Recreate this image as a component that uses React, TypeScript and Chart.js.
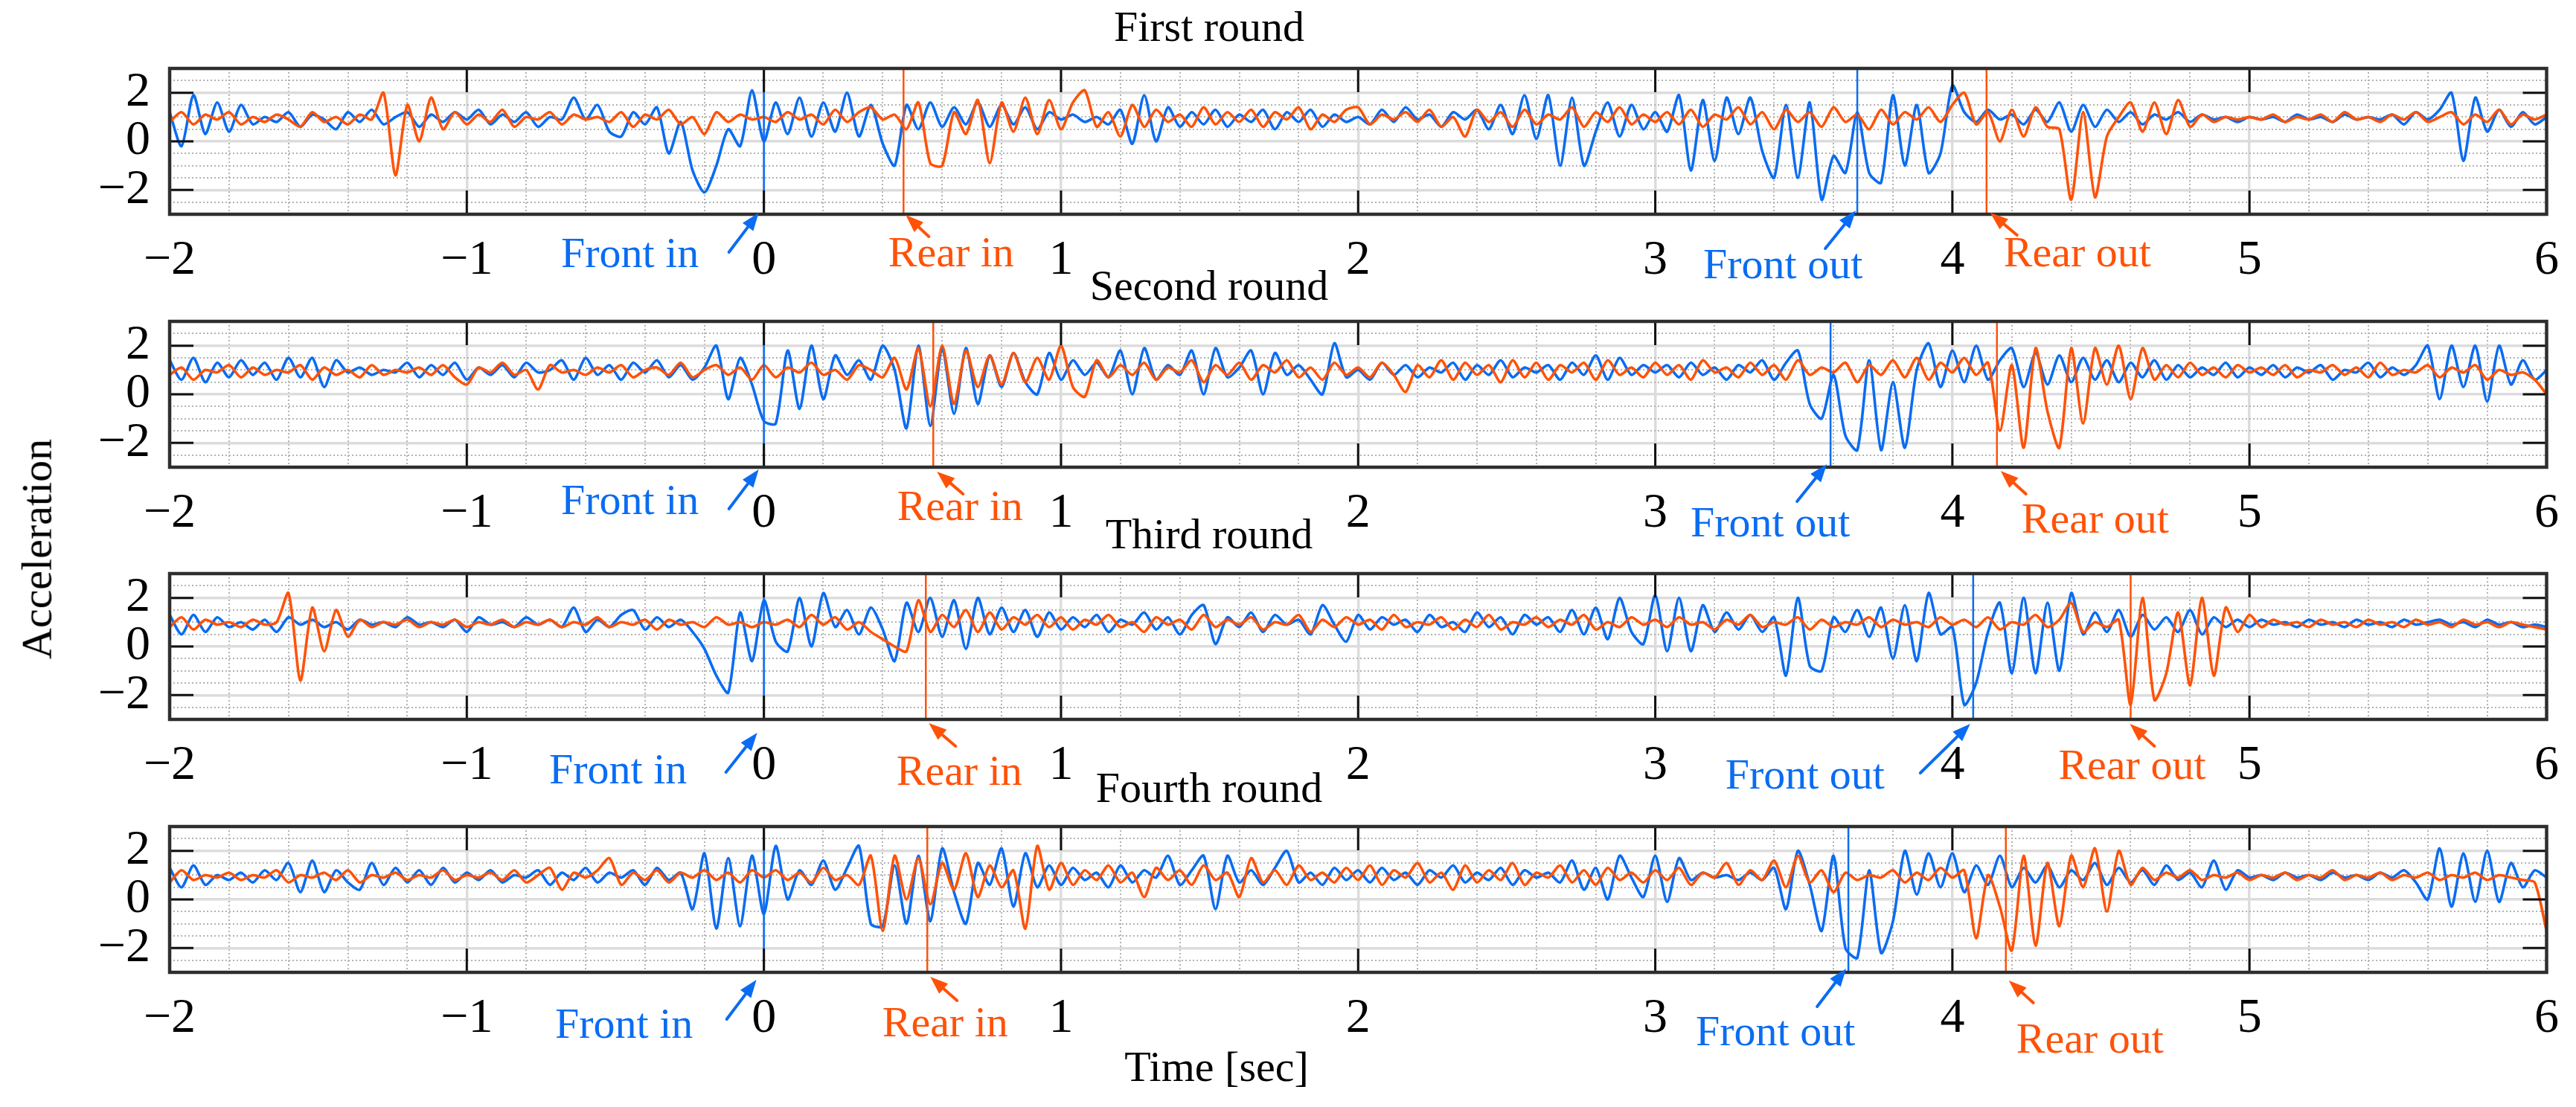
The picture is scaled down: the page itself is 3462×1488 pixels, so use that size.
import React, { useEffect, useRef } from "react";
import { Chart, registerables } from "chart.js";
Chart.register(...registerables);

// ---------------- data ----------------
// uniformly sampled signals: first sample at T_START, one sample every T_STEP seconds
const T_START = -2;
const T_STEP = 0.04;

const X_MIN = -2;
const X_MAX = 6;
const Y_MIN = -3;
const Y_MAX = 3;
const X_MAJOR = [-2, -1, 0, 1, 2, 3, 4, 5, 6];
const Y_MAJOR = [-2, 0, 2];

const ROUND_TITLES = ["First round", "Second round", "Third round", "Fourth round"];
const EVENT_LABELS = ["Front in", "Rear in", "Front out", "Rear out"];

const FRONT_1 = [
  1.2, -0.2, 1.9, 0.3, 1.6, 0.4, 1.5, 0.7, 1.0, 0.8, 1.2, 0.6, 1.1, 0.9, 0.5, 1.2, 0.8, 1.3, 0.7, 1.0, 1.2, 0.6, 1.1, 0.8, 1.2,
  0.9, 1.3, 0.7, 1.1, 0.8, 1.2, 0.6, 1.0, 0.9, 1.8, 0.9, 1.5, 0.4, 0.2, 1.2, 0.7, 1.4, -0.5, 0.8, -1.2, -2.1, -1.0, 0.5, -0.2, 2.1,
  0.0, 1.6, 0.3, 1.8, 0.2, 1.6, 0.4, 2.0, 0.2, 1.5, -0.1, -1.0, 1.5, 0.5, 1.6, 0.6, 1.4, 0.7, 1.6, 0.6, 1.5, 0.7, 1.4, 0.5, 1.2,
  0.9, 1.1, 0.8, 1.0, 0.7, 1.3, -0.1, 1.9, 0.0, 1.4, 0.6, 1.2, 0.7, 1.3, 0.6, 1.1, 0.8, 1.3, 0.5, 1.2, 0.8, 1.3, 0.6, 1.1, 0.8,
  1.0, 0.7, 1.3, 0.8, 1.4, 0.9, 1.1, 0.6, 1.2, 0.9, 1.3, 0.5, 1.5, 0.3, 1.9, 0.1, 1.9, -1.0, 1.8, -1.0, 0.4, 1.6, 0.2, 1.5, 0.5,
  1.2, 0.4, 1.9, -1.2, 1.7, -0.8, 1.8, 0.3, 1.8, -0.4, -1.5, 1.5, -1.5, 1.6, -2.4, -0.6, -1.3, 1.2, -1.3, -1.7, 1.9, -1.0, 1.5, -1.3, -0.5,
  2.3, 1.2, 0.8, 1.3, 0.9, 1.1, 0.7, 1.3, 0.8, 1.6, 0.4, 1.5, 0.6, 1.3, 0.8, 1.2, 0.7, 1.1, 0.9, 1.2, 0.8, 1.1, 0.9, 1.0, 0.8,
  1.0, 0.9, 1.0, 0.8, 1.1, 0.9, 1.0, 0.8, 1.1, 0.9, 1.0, 0.9, 1.1, 0.7, 1.2, 0.9, 1.3, 2.0, -0.8, 1.8, 0.4, 1.3, 0.6, 1.2, 0.7,
  1.0,
];
const REAR_1 = [
  0.8, 1.2, 0.7, 1.1, 0.9, 1.2, 0.7, 1.0, 0.8, 1.1, 0.9, 0.6, 1.2, 0.8, 1.0, 0.7, 1.1, 0.9, 2.0, -1.4, 1.5, 0.0, 1.8, 0.5, 1.2,
  0.7, 1.1, 0.8, 1.3, 0.6, 1.0, 0.9, 1.2, 0.7, 1.1, 0.9, 1.0, 0.8, 1.2, 0.6, 1.1, 0.9, 1.3, 0.7, 1.0, 0.3, 1.2, 0.8, 1.1, 0.9,
  1.0, 0.8, 1.2, 0.9, 1.1, 0.7, 1.3, 0.8, 1.2, 1.4, 0.9, 1.1, 0.5, 1.6, -0.9, -1.0, 1.2, 0.3, 1.7, -0.9, 1.6, 0.4, 1.8, 0.3, 1.7,
  0.5, 1.6, 2.1, 0.6, 1.2, 0.2, 1.5, 0.6, 1.3, 0.8, 1.1, 0.6, 1.4, 0.7, 1.2, 0.8, 1.3, 0.6, 1.2, 0.9, 1.4, 0.5, 1.1, 0.8, 1.3,
  1.4, 0.7, 1.1, 0.9, 1.2, 0.8, 1.3, 0.6, 1.0, 0.2, 1.3, 0.8, 1.2, 0.6, 1.3, 0.7, 1.1, 0.9, 1.4, 0.6, 1.2, 0.8, 1.4, 0.7, 1.1,
  0.8, 1.2, 0.7, 1.3, 0.6, 1.1, 0.9, 1.4, 0.7, 1.2, 0.5, 1.3, 0.8, 1.2, 0.6, 1.4, 0.8, 1.1, 0.5, 1.3, 0.7, 1.2, 0.9, 1.4, 0.8,
  1.5, 2.0, 0.7, 1.2, 0.0, 1.3, 0.2, 1.4, 0.6, 0.5, -2.4, 1.2, -2.3, 0.2, 1.0, 1.6, 0.4, 1.6, 0.3, 1.7, 0.6, 1.1, 0.8, 1.0, 0.9,
  1.0, 0.9, 1.1, 0.8, 1.0, 0.9, 1.1, 0.8, 1.2, 0.9, 1.0, 0.8, 1.1, 0.9, 1.2, 0.8, 1.0, 1.2, 0.7, 1.1, 0.8, 1.3, 0.7, 1.1, 0.9,
  1.1,
];
const FRONT_2 = [
  1.4, 0.6, 1.5, 0.5, 1.3, 0.7, 1.4, 0.8, 1.3, 0.6, 1.5, 0.7, 1.5, 0.3, 1.4, 0.9, 1.1, 0.8, 1.0, 0.9, 1.3, 0.7, 1.2, 0.8, 1.3,
  0.6, 1.1, 0.8, 1.2, 0.7, 1.3, 0.9, 1.0, 1.4, 0.6, 1.5, 0.8, 1.2, 0.6, 1.3, 0.9, 1.4, 0.7, 1.2, 0.6, 1.1, 2.0, -0.2, 1.5, 0.4,
  -1.1, -1.2, 1.8, -0.6, 2.0, -0.2, 1.6, 0.8, 1.4, 0.6, 2.0, 1.0, -1.4, 2.0, -1.3, 1.9, -0.8, 1.9, -0.4, 1.6, 0.3, 1.7, 0.5, 0.0, 1.7,
  0.6, 1.4, 0.8, 1.3, 0.7, 1.8, 0.0, 1.9, 0.6, 1.2, 0.8, 1.8, 0.0, 1.9, 0.7, 1.1, 1.8, 0.0, 1.7, 0.8, 1.2, 0.6, 0.0, 2.1, 0.7,
  1.0, 0.6, 1.3, 0.8, 1.2, 0.7, 1.1, 0.9, 1.3, 0.6, 1.2, 0.8, 1.4, 0.7, 1.1, 0.9, 1.2, 0.6, 1.3, 0.8, 1.6, 0.6, 1.5, 0.8, 1.2,
  0.9, 1.2, 0.7, 1.3, 0.8, 1.1, 0.6, 1.2, 0.9, 1.4, 0.6, 1.3, 1.8, -0.4, -1.0, 0.8, -1.7, -2.3, 1.4, -2.3, 0.5, -2.2, 1.0, 2.1, 0.3,
  1.8, 0.5, 2.0, 0.6, 1.4, 1.9, 0.3, 1.7, 0.4, 1.6, 0.5, 1.5, 0.6, 1.4, 0.5, 1.3, 0.7, 1.4, 0.6, 1.2, 0.7, 1.1, 0.8, 1.3, 0.7,
  1.1, 0.8, 1.2, 0.7, 1.1, 0.9, 1.2, 0.6, 1.0, 0.9, 1.3, 0.7, 1.1, 0.8, 1.2, 2.0, -0.2, 2.0, 0.3, 2.0, -0.3, 2.0, 0.4, 1.4, 0.6,
  1.0,
];
const REAR_2 = [
  0.8, 1.1, 0.6, 1.0, 0.9, 1.2, 0.7, 1.1, 0.8, 1.0, 0.9, 1.2, 0.6, 1.1, 0.8, 1.0, 0.7, 1.2, 0.8, 1.0, 0.9, 1.1, 0.8, 1.2, 0.7,
  0.4, 1.1, 0.9, 1.3, 0.8, 1.0, 0.2, 1.2, 0.9, 1.0, 0.8, 1.1, 0.9, 1.2, 0.7, 1.0, 1.1, 0.8, 1.3, 0.7, 1.0, 1.2, 0.8, 1.1, 0.6,
  1.2, 0.7, 1.1, 0.9, 1.3, 0.8, 1.0, 0.6, 1.2, 1.0, 0.7, 1.5, 0.2, 1.9, -0.5, 2.0, -0.4, 1.8, 0.3, 1.6, 0.4, 1.7, 0.5, 1.5, 0.6,
  2.0, 0.3, -0.1, 1.4, 0.7, 1.2, 0.8, 1.3, 0.6, 1.1, 0.9, 1.4, 0.5, 1.2, 0.8, 1.3, 0.6, 1.2, 0.9, 1.4, 0.7, 1.1, 0.6, 1.3, 0.8,
  1.1, 0.7, 1.3, 0.8, 0.1, 1.2, 0.7, 1.4, 0.6, 1.3, 0.8, 1.2, 0.5, 1.4, 0.7, 1.3, 0.6, 1.2, 0.9, 1.3, 0.6, 1.4, 0.8, 1.1, 0.7,
  1.3, 0.8, 1.2, 0.6, 1.4, 0.9, 1.1, 0.7, 1.3, 0.8, 1.2, 0.6, 1.4, 0.8, 1.1, 0.9, 1.3, 0.5, 1.2, 0.8, 1.4, 0.7, 1.5, 0.6, 1.3,
  0.9, 1.5, 0.8, 1.3, -1.5, 1.2, -2.2, 1.9, -0.7, -2.2, 1.9, -1.2, 1.9, 0.4, 2.0, -0.2, 1.9, 0.6, 1.2, 0.7, 1.3, 0.8, 1.1, 0.7, 1.2,
  0.9, 1.1, 0.8, 1.2, 0.7, 1.0, 0.9, 1.2, 0.8, 1.1, 0.7, 1.3, 0.8, 1.0, 0.9, 1.2, 0.7, 1.1, 0.9, 1.2, 0.6, 1.0, 0.8, 0.9, 0.6,
  0.0,
];
const FRONT_3 = [
  1.3, 0.5, 1.3, 0.6, 1.2, 0.8, 1.0, 0.7, 1.1, 0.6, 1.2, 0.9, 1.1, 0.8, 1.0, 0.7, 1.1, 0.9, 1.0, 0.8, 1.2, 0.9, 1.0, 0.8, 1.1,
  0.6, 1.2, 0.9, 1.0, 0.8, 1.2, 0.9, 1.1, 0.8, 1.6, 0.6, 1.1, 0.8, 1.3, 1.5, 0.7, 1.2, 0.8, 1.1, 0.6, -0.1, -1.2, -1.9, 1.4, -0.6,
  1.9, 0.2, -0.2, 2.0, 0.0, 2.2, 0.8, 1.5, 0.5, 1.6, 0.7, -0.6, 1.8, 0.6, 2.0, 0.4, 1.9, -0.1, 2.0, 0.5, 1.6, 0.6, 1.5, 0.4, 1.4,
  0.7, 1.2, 0.8, 1.3, 0.6, 1.1, 0.9, 1.4, 0.7, 1.2, 0.5, 1.3, 1.7, 0.1, 1.2, 0.8, 1.4, 0.6, 1.3, 0.9, 1.1, 0.5, 1.7, 0.9, 0.2,
  1.3, 0.7, 1.2, 0.9, 1.1, 0.6, 1.3, 0.8, 1.0, 0.6, 1.4, 0.8, 1.2, 0.5, 1.3, 0.9, 1.2, 0.6, 1.5, 0.5, 1.6, 0.3, 2.0, 0.6, 0.1,
  2.1, -0.2, 2.0, -0.2, 1.7, 0.6, 1.4, 0.7, 1.3, 0.6, 1.2, -1.2, 2.0, -0.8, -1.0, 1.2, 0.6, 1.5, 0.4, 1.6, -0.5, 1.7, -0.6, 2.2, 0.5,
  0.8, -2.4, -1.5, 0.6, 1.8, -1.1, 2.0, -1.1, 1.8, -1.0, 2.2, 0.5, 1.4, 0.6, 1.5, 0.4, 1.3, 0.7, 1.2, 0.6, 1.5, 0.5, 1.2, 0.8, 1.1,
  0.8, 1.1, 0.9, 1.0, 0.8, 1.1, 0.9, 1.0, 0.8, 1.1, 0.9, 1.0, 0.8, 1.1, 0.9, 1.0, 1.1, 0.9, 1.0, 0.8, 1.1, 0.9, 1.0, 0.8, 0.9,
  0.8,
];
const REAR_3 = [
  0.8, 1.2, 0.7, 1.1, 0.9, 1.0, 0.8, 1.1, 0.9, 1.0, 2.2, -1.4, 1.6, -0.2, 1.5, 0.4, 1.1, 0.8, 1.0, 0.9, 1.1, 0.8, 1.0, 0.9, 1.1,
  0.8, 1.0, 0.9, 1.1, 0.8, 1.0, 0.9, 1.1, 0.8, 1.0, 0.9, 1.2, 0.8, 1.0, 0.9, 1.1, 0.7, 1.1, 0.9, 1.0, 0.8, 1.2, 0.9, 1.0, 0.8,
  1.0, 0.9, 1.1, 0.8, 1.3, 0.9, 1.2, 0.7, 1.0, 0.6, 0.3, 0.0, -0.2, 1.9, 0.6, 1.3, 0.8, 1.5, 0.6, 1.4, 0.7, 1.2, 0.9, 1.3, 0.8,
  1.2, 0.7, 1.1, 0.9, 1.3, 0.8, 1.0, 0.6, 1.2, 0.9, 1.1, 0.7, 1.3, 0.8, 1.1, 0.9, 1.2, 0.7, 1.0, 0.9, 1.3, 0.6, 1.1, 0.8, 1.2,
  0.9, 1.1, 0.7, 1.3, 0.8, 1.0, 0.9, 1.2, 0.7, 1.1, 0.8, 1.3, 0.7, 1.0, 0.9, 1.2, 0.8, 1.1, 0.9, 1.3, 0.7, 1.0, 0.8, 1.2, 0.9,
  1.1, 0.8, 1.2, 0.9, 1.0, 0.7, 1.1, 0.9, 1.3, 0.8, 1.0, 0.9, 1.2, 0.7, 1.1, 0.8, 1.0, 0.9, 1.2, 0.8, 1.1, 0.9, 1.0, 0.8, 1.2,
  0.9, 1.1, 0.8, 1.2, 0.7, 1.0, 0.9, 1.3, 0.8, 1.1, 1.8, 0.6, 1.0, 0.8, 1.1, -2.4, 2.0, -2.2, -1.1, 1.4, -1.6, 2.0, -1.2, 1.6, 0.6,
  1.3, 0.8, 1.1, 0.9, 1.0, 0.8, 1.1, 0.9, 1.0, 0.8, 1.1, 0.9, 1.0, 0.8, 1.1, 0.9, 1.0, 0.8, 1.1, 0.9, 1.0, 0.8, 1.0, 0.9, 0.8,
  0.7,
];
const FRONT_4 = [
  1.3, 0.5, 1.4, 0.6, 1.0, 0.8, 1.1, 0.7, 1.2, 0.8, 1.5, 0.3, 1.6, 0.3, 1.2, 0.7, 0.4, 1.5, 0.6, 1.3, 0.7, 1.2, 0.6, 1.3, 0.7,
  1.1, 0.8, 1.2, 0.7, 1.0, 0.9, 1.2, 0.6, 1.1, 0.8, 1.3, 0.7, 1.1, 0.9, 1.2, 0.6, 1.3, 0.8, 1.1, -0.4, 1.9, -1.2, 1.7, -1.1, 1.8,
  -0.6, 2.2, 0.0, 1.2, 0.6, 1.6, 0.4, 1.3, 2.2, -1.0, -1.1, 1.4, -1.0, 1.8, -0.9, 2.1, 0.3, -1.0, 1.5, 0.6, 2.1, -0.3, 1.9, 0.5, 1.4,
  0.6, 1.3, 0.8, 1.1, 0.5, 1.4, 0.7, 1.2, 0.9, 1.8, 0.6, 1.2, 1.8, -0.4, 1.8, 0.7, 1.2, 0.6, 1.3, 2.0, 0.7, 1.1, 0.6, 1.3, 0.8,
  1.2, 0.7, 1.3, 0.8, 1.1, 0.6, 1.2, 0.9, 1.4, 0.7, 1.1, 0.8, 1.3, 0.6, 1.2, 0.9, 1.1, 0.7, 1.6, 0.4, 1.3, 0.0, 1.8, 0.9, 0.1,
  1.8, -0.1, 1.7, 0.8, 1.1, 0.9, 1.0, 0.8, 1.1, 0.8, 1.3, -0.4, 2.0, 0.6, -1.3, 1.8, -2.0, -2.4, 1.2, -2.2, -0.9, 2.0, 0.2, 1.9, 0.5,
  1.9, 0.3, 1.4, 0.6, 1.8, 0.5, 1.3, 0.7, 1.4, 0.5, 1.2, 0.8, 1.5, 0.6, 1.3, 0.7, 1.2, 0.6, 1.4, 0.8, 1.1, 0.5, 1.6, 0.4, 1.2,
  0.9, 1.0, 0.8, 1.1, 0.9, 1.0, 0.8, 1.1, 0.9, 1.0, 0.8, 1.1, 0.9, 1.2, 0.7, 0.0, 2.1, -0.3, 1.9, -0.1, 2.0, -0.1, 1.5, 0.5, 1.2,
  0.9,
];
const REAR_4 = [
  0.7, 1.2, 0.8, 1.0, 0.9, 1.1, 0.8, 1.0, 0.9, 1.2, 0.7, 1.0, 0.9, 1.1, 0.8, 1.2, 0.7, 1.0, 0.9, 1.1, 0.8, 1.0, 0.9, 1.2, 0.8,
  1.0, 0.9, 1.1, 0.8, 1.2, 0.7, 1.0, 1.3, 0.4, 1.1, 0.9, 1.2, 1.7, 0.6, 1.1, 0.8, 1.2, 0.7, 1.1, 0.9, 1.2, 0.8, 1.1, 0.7, 1.2,
  0.9, 1.2, 0.8, 1.1, 0.7, 1.3, 0.8, 1.0, 0.6, 1.8, -1.3, 1.8, 0.0, 1.7, -0.2, 1.5, 0.4, 1.9, 0.1, 1.4, 0.5, 1.2, -1.2, 2.2, 0.4,
  1.5, 0.6, 1.2, 0.8, 1.4, 0.7, 1.1, 0.1, 1.3, 0.8, 1.2, 0.6, 1.4, 0.8, 1.1, 0.1, 1.7, 0.7, 1.2, 0.6, 1.4, 0.8, 1.1, 0.7, 1.3,
  0.8, 1.4, 0.6, 1.2, 0.9, 1.5, 0.7, 1.1, 0.4, 1.4, 0.7, 1.2, 0.8, 1.5, 0.6, 1.1, 0.9, 1.4, 0.7, 1.2, 0.6, 1.3, 0.8, 1.1, 0.7,
  1.2, 0.8, 1.3, 0.6, 1.1, 0.9, 1.5, 0.6, 1.2, 0.8, 1.6, 0.5, 1.8, 0.7, 1.2, 0.3, 1.1, 0.8, 1.0, 0.9, 1.2, 0.7, 1.1, 0.8, 1.3,
  0.9, 1.2, -1.6, 1.0, -0.3, -2.1, 1.8, -1.9, 1.5, -1.1, 1.8, 0.5, 2.1, -0.5, 2.0, 0.6, 1.3, 0.8, 1.1, 0.9, 1.2, 0.8, 1.0, 0.9, 1.1,
  0.8, 1.0, 0.9, 1.1, 0.8, 1.0, 0.9, 1.2, 0.8, 1.0, 0.9, 1.1, 0.8, 1.0, 0.9, 1.1, 0.8, 1.0, 0.9, 1.1, 0.8, 1.0, 0.9, 0.8, 0.7,
  -1.3,
];

// event times (s): front in, rear in, front out, rear out
const EVENTS_1 = [0, 0.47, 3.68, 4.115];
const EVENTS_2 = [0, 0.57, 3.59, 4.15];
const EVENTS_3 = [0, 0.545, 4.07, 4.6];
const EVENTS_4 = [0, 0.55, 3.65, 4.18];

const FRONTS = [FRONT_1, FRONT_2, FRONT_3, FRONT_4];
const REARS = [REAR_1, REAR_2, REAR_3, REAR_4];
const EVENTS = [EVENTS_1, EVENTS_2, EVENTS_3, EVENTS_4];

// ---------------- layout / style ----------------
const FONT = "'Liberation Serif', 'Times New Roman', serif";
const BLUE = "#0a6cf2";
const ORANGE = "#ff5208";
const W = 3462;
const H = 1488;
const CANVAS_H = 469;
const PANEL_OFFSETS = [0, 340, 679, 1019];
const PLOT_TOP = 92;
const PLOT_BOTTOM = 288;
const PLOT_LEFT = 228;
const PLOT_RIGHT = 3428;
const TICK_LEN = 32;
const TITLE_CX = 1625;
const TITLE_DY = [-37, -29, -34, -33];

// text / arrow placement, in px relative to the event line and plot bottom
const ANNOT_LAYOUT = [
  [
    { tx: -180, ty: 71, ax: -47, ay: 51, hx: -7, hy: -2 },
    { tx: 64, ty: 70, ax: 34, ay: 30, hx: 3, hy: 1 },
    { tx: -100, ty: 86, ax: -43, ay: 46, hx: -2, hy: -5 },
    { tx: 122, ty: 70, ax: 41, ay: 28, hx: 5, hy: -2 },
  ],
  [
    { tx: -180, ty: 63, ax: -47, ay: 56, hx: -7, hy: 3 },
    { tx: 36, ty: 71, ax: 40, ay: 36, hx: 5, hy: 6 },
    { tx: -81, ty: 93, ax: -45, ay: 46, hx: -5, hy: -4 },
    { tx: 132, ty: 88, ax: 39, ay: 36, hx: 5, hy: 5 },
  ],
  [
    { tx: -196, ty: 86, ax: -51, ay: 71, hx: -9, hy: 18 },
    { tx: 45, ty: 88, ax: 40, ay: 36, hx: 4, hy: 5 },
    { tx: -226, ty: 93, ax: -71, ay: 72, hx: -4, hy: 6 },
    { tx: 2, ty: 80, ax: 32, ay: 36, hx: -1, hy: 6 },
  ],
  [
    { tx: -188, ty: 88, ax: -50, ay: 63, hx: -10, hy: 10 },
    { tx: 24, ty: 86, ax: 40, ay: 38, hx: 4, hy: 6 },
    { tx: -98, ty: 98, ax: -42, ay: 46, hx: -3, hy: -5 },
    { tx: 113, ty: 108, ax: 37, ay: 41, hx: 4, hy: 11 },
  ],
];

const fmt = (n: number) => (n < 0 ? "\u2212" + Math.abs(n) : String(n));
const isInt = (v: number) => Math.abs(v - Math.round(v)) < 1e-6;
const isYMajor = (v: number) => Y_MAJOR.some((m) => Math.abs(m - v) < 1e-6);
const toPoints = (vals: number[]) =>
  vals.map((y, i) => ({ x: Math.round((T_START + i * T_STEP) * 1000) / 1000, y }));

function drawArrow(ctx: CanvasRenderingContext2D, x1: number, y1: number, x2: number, y2: number, color: string) {
  const ang = Math.atan2(y2 - y1, x2 - x1);
  const hl = 24;
  const hw = 9;
  const bx = x2 - hl * Math.cos(ang);
  const by = y2 - hl * Math.sin(ang);
  ctx.strokeStyle = color;
  ctx.fillStyle = color;
  ctx.lineWidth = 4;
  ctx.lineCap = "round";
  ctx.beginPath();
  ctx.moveTo(x1, y1);
  ctx.lineTo(bx, by);
  ctx.stroke();
  ctx.beginPath();
  ctx.moveTo(x2, y2);
  ctx.lineTo(bx + hw * Math.sin(ang), by - hw * Math.cos(ang));
  ctx.lineTo(bx - hw * Math.sin(ang), by + hw * Math.cos(ang));
  ctx.closePath();
  ctx.fill();
}

function makeDecor(k: number) {
  return {
    id: "decor" + k,
    afterDatasetsDraw(chart: any) {
      const { ctx, chartArea } = chart;
      const { left, right, top, bottom } = chartArea;
      const xs = chart.scales.x;
      const ys = chart.scales.y;
      ctx.save();
      ctx.strokeStyle = "#111";
      ctx.lineWidth = 3;
      ctx.beginPath();
      X_MAJOR.forEach((v) => {
        const x = xs.getPixelForValue(v);
        ctx.moveTo(x, top);
        ctx.lineTo(x, top + TICK_LEN);
        ctx.moveTo(x, bottom);
        ctx.lineTo(x, bottom - TICK_LEN);
      });
      Y_MAJOR.forEach((v) => {
        const y = ys.getPixelForValue(v);
        ctx.moveTo(left, y);
        ctx.lineTo(left + TICK_LEN, y);
        ctx.moveTo(right, y);
        ctx.lineTo(right - TICK_LEN, y);
      });
      ctx.stroke();
      ctx.strokeStyle = "#2e2e2e";
      ctx.lineWidth = 4.5;
      ctx.strokeRect(left, top, right - left, bottom - top);
      ctx.restore();
    },
    afterDraw(chart: any) {
      const { ctx, chartArea } = chart;
      const xs = chart.scales.x;
      ctx.save();
      ctx.font = `58px ${FONT}`;
      ctx.textBaseline = "alphabetic";
      ctx.textAlign = "center";
      ctx.fillStyle = "#000";
      ctx.fillText(ROUND_TITLES[k], TITLE_CX, chartArea.top + TITLE_DY[k]);
      EVENTS[k].forEach((t, j) => {
        const lx = xs.getPixelForValue(t);
        const L = ANNOT_LAYOUT[k][j];
        const color = j % 2 === 0 ? BLUE : ORANGE;
        ctx.fillStyle = color;
        ctx.fillText(EVENT_LABELS[j], lx + L.tx, chartArea.bottom + L.ty);
        drawArrow(ctx, lx + L.ax, chartArea.bottom + L.ay, lx + L.hx, chartArea.bottom + L.hy, color);
      });
      ctx.restore();
    },
  };
}

function buildChart(canvas: HTMLCanvasElement, k: number) {
  const lineBase = { pointRadius: 0, pointHoverRadius: 0, fill: false };
  const datasets: any[] = [
    { ...lineBase, label: "Rear", data: toPoints(REARS[k]), borderColor: ORANGE, borderWidth: 3.6, tension: 0.25, order: 1 },
    { ...lineBase, label: "Front", data: toPoints(FRONTS[k]), borderColor: BLUE, borderWidth: 3.6, tension: 0.25, order: 2 },
    ...EVENTS[k].map((t, j) => ({
      ...lineBase,
      label: EVENT_LABELS[j],
      data: [
        { x: t, y: Y_MIN },
        { x: t, y: Y_MAX },
      ],
      borderColor: j % 2 === 0 ? BLUE : ORANGE,
      borderWidth: 2.5,
      order: 0,
    })),
  ];
  const tickFont = { family: FONT, size: 66 };
  return new Chart(canvas, {
    type: "line",
    data: { datasets },
    options: {
      responsive: false,
      animation: false,
      devicePixelRatio: 1,
      events: [],
      layout: { padding: { top: PLOT_TOP, left: 0, right: W - PLOT_RIGHT, bottom: 0 } },
      plugins: { legend: { display: false }, tooltip: { enabled: false }, title: { display: false } },
      scales: {
        x: {
          type: "linear",
          min: X_MIN,
          max: X_MAX,
          afterFit: (s: any) => {
            s.height = CANVAS_H - PLOT_BOTTOM;
          },
          ticks: {
            stepSize: 0.2,
            maxTicksLimit: 100,
            autoSkip: false,
            maxRotation: 0,
            minRotation: 0,
            padding: 23,
            color: "#000",
            font: tickFont,
            callback: (v: any) => (isInt(Number(v)) ? fmt(Math.round(Number(v))) : ""),
          },
          grid: {
            drawTicks: false,
            color: (c: any) => {
              const v = c.tick ? c.tick.value : 0;
              if (Math.abs(v - X_MIN) < 1e-6 || Math.abs(v - X_MAX) < 1e-6) return "rgba(0,0,0,0)";
              return isInt(v) ? "#dcdcdc" : "#b3b3b3";
            },
            lineWidth: (c: any) => (c.tick && isInt(c.tick.value) ? 3.5 : 2),
          },
          border: { display: false, dash: (c: any) => (c.tick && isInt(c.tick.value) ? [] : [2, 3]) },
        },
        y: {
          type: "linear",
          min: Y_MIN,
          max: Y_MAX,
          afterFit: (s: any) => {
            s.width = PLOT_LEFT;
          },
          ticks: {
            stepSize: 0.5,
            maxTicksLimit: 100,
            autoSkip: false,
            padding: 26,
            color: "#000",
            font: tickFont,
            callback: (v: any) => (isYMajor(Number(v)) ? fmt(Math.round(Number(v))) : ""),
          },
          grid: {
            drawTicks: false,
            color: (c: any) => {
              const v = c.tick ? c.tick.value : 0;
              if (Math.abs(v - Y_MIN) < 1e-6 || Math.abs(v - Y_MAX) < 1e-6) return "rgba(0,0,0,0)";
              return isYMajor(v) ? "#dcdcdc" : "#b3b3b3";
            },
            lineWidth: (c: any) => (c.tick && isYMajor(c.tick.value) ? 3.5 : 2),
          },
          border: { display: false, dash: (c: any) => (c.tick && isYMajor(c.tick.value) ? [] : [2, 3]) },
        },
      },
    } as any,
    plugins: [makeDecor(k) as any],
  });
}

export default function App() {
  const canvasRefs = useRef<(HTMLCanvasElement | null)[]>([]);

  useEffect(() => {
    const charts: Chart[] = [];
    canvasRefs.current.forEach((c, k) => {
      if (c) charts.push(buildChart(c, k));
    });
    return () => {
      charts.forEach((ch) => ch.destroy());
    };
  }, []);

  const labelStyle: React.CSSProperties = {
    position: "absolute",
    font: `58px ${FONT}`,
    lineHeight: "1.15",
    whiteSpace: "nowrap",
    color: "#000",
  };

  return (
    <div style={{ position: "absolute", left: 0, top: 0, width: W, height: H, background: "#fff", overflow: "hidden" }}>
      {PANEL_OFFSETS.map((off, k) => (
        <canvas
          key={k}
          ref={(el) => {
            canvasRefs.current[k] = el;
          }}
          width={W}
          height={CANVAS_H}
          style={{ position: "absolute", left: 0, top: off, width: W, height: CANVAS_H }}
        />
      ))}
      <div style={{ ...labelStyle, left: 50, top: 738, transform: "translate(-50%, -50%) rotate(-90deg)" }}>Acceleration</div>
      <div style={{ ...labelStyle, left: 1635, top: 1401, transform: "translateX(-50%)" }}>Time [sec]</div>
    </div>
  );
}
